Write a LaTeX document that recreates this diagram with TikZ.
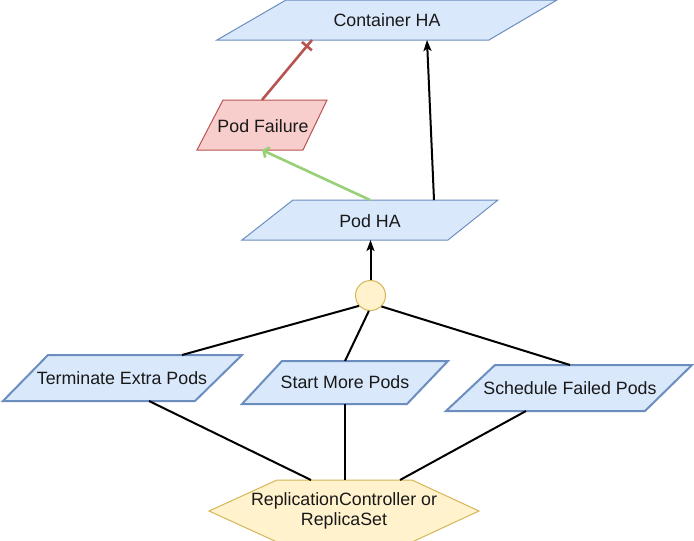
\documentclass[tikz,border=0pt]{standalone}
\usepackage{fontspec}
\setmainfont{Liberation Sans}
\usetikzlibrary{arrows.meta,decorations.markings}
\definecolor{bfill}{HTML}{DAE8FC}
\definecolor{bline}{HTML}{6C8EBF}
\definecolor{rfill}{HTML}{F8CECC}
\definecolor{rline}{HTML}{B85450}
\definecolor{yfill}{HTML}{FFF2CC}
\definecolor{yline}{HTML}{D6B656}
\definecolor{gline}{HTML}{97D077}
\begin{document}
\begin{tikzpicture}[x=1pt,y=-1pt,
  lbl/.style={font=\fontsize{17.8}{20}\selectfont, align=center, inner sep=0pt, text=black!90},
  bluebox/.style={fill=bfill, draw=bline, line width=1pt, line join=miter},
  bluethick/.style={bluebox, line width=2pt},
  redbox/.style={fill=rfill, draw=rline, line width=1pt},
  yelbox/.style={fill=yfill, draw=yline, line width=1pt},
  conn/.style={line width=2pt, draw=black},
  blacktip/.style={-{Stealth[length=11pt,width=8pt,inset=2.5pt]}},
  greenconn/.style={line width=2.6pt, draw=gline, -{Straight Barb[length=4.5pt,width=11pt]}},
  redconn/.style={line width=2.6pt, draw=rline, postaction={decorate},
    decoration={markings, mark=at position -8pt with {\draw[line width=2.6pt, draw=rline] (0,-6.5pt) -- (0,6.5pt);}}}]
\useasboundingbox (0,0) rectangle (694,541);
\fill[white] (0,0) rectangle (694,541);

% shapes
\draw[bluebox] (286,0) -- (557,0) -- (489,40) -- (217,40) -- cycle;
\draw[redbox] (223,100) -- (327,100) -- (303,150) -- (197,150) -- cycle;
\draw[bluebox] (293,200) -- (498,200) -- (448,240) -- (242,240) -- cycle;
\draw[bluethick] (48,355) -- (242,355) -- (195,401) -- (3,401) -- cycle;
\draw[bluethick] (282,361) -- (448,361) -- (407,404) -- (242,404) -- cycle;
\draw[bluethick] (495,365) -- (692,365) -- (645,411) -- (446,411) -- cycle;
\draw[yelbox] (209,511) -- (277,480) -- (412,480) -- (479,511) -- (412,542) -- (277,542) -- cycle;

% labels
\node[lbl] (contha) at (387,20) {Container HA};
\node[lbl] (podfail) at (263,126) {Pod Failure};
\node[lbl] (podha) at (370,221) {Pod HA};
\node[lbl] (term) at (122,378) {Terminate Extra Pods};
\node[lbl] (start) at (345,382) {Start More Pods};
\node[lbl] (sched) at (570,388) {Schedule Failed Pods};
\node[lbl] (rc) at (344,511) {ReplicationController or\\ReplicaSet};
\node[circle, yelbox, minimum size=30pt, inner sep=0pt] (junc) at (370.5,295.5) {};

% attachment points
\coordinate (contha-s1) at (312,40);
\coordinate (contha-s2) at (427,40);
\coordinate (podfail-n) at (262,100);
\coordinate (podfail-s) at (262,150);
\coordinate (podha-n1) at (370,200);
\coordinate (podha-n2) at (434,200);
\coordinate (podha-s) at (370.5,240);
\coordinate (term-n) at (182,355);
\coordinate (term-s) at (149,401);
\coordinate (start-n) at (345,361);
\coordinate (start-s) at (345,404);
\coordinate (sched-n) at (570,365);
\coordinate (sched-s) at (526,411);
\coordinate (rc-n1) at (311,480);
\coordinate (rc-n2) at (345,480);
\coordinate (rc-n3) at (400,480);

% connectors
\draw[redconn] (podfail-n) -- (contha-s1);
\draw[greenconn] (podha-n1) -- (podfail-s);
\draw[conn, blacktip] (podha-n2) -- (contha-s2);
\draw[conn, blacktip] (junc.north) -- (podha-s);
\draw[conn] (junc.222) -- (term-n);
\draw[conn] (junc.264) -- (start-n);
\draw[conn] (junc.315) -- (sched-n);
\draw[conn] (term-s) -- (rc-n1);
\draw[conn] (start-s) -- (rc-n2);
\draw[conn] (sched-s) -- (rc-n3);
\end{tikzpicture}
\end{document}
